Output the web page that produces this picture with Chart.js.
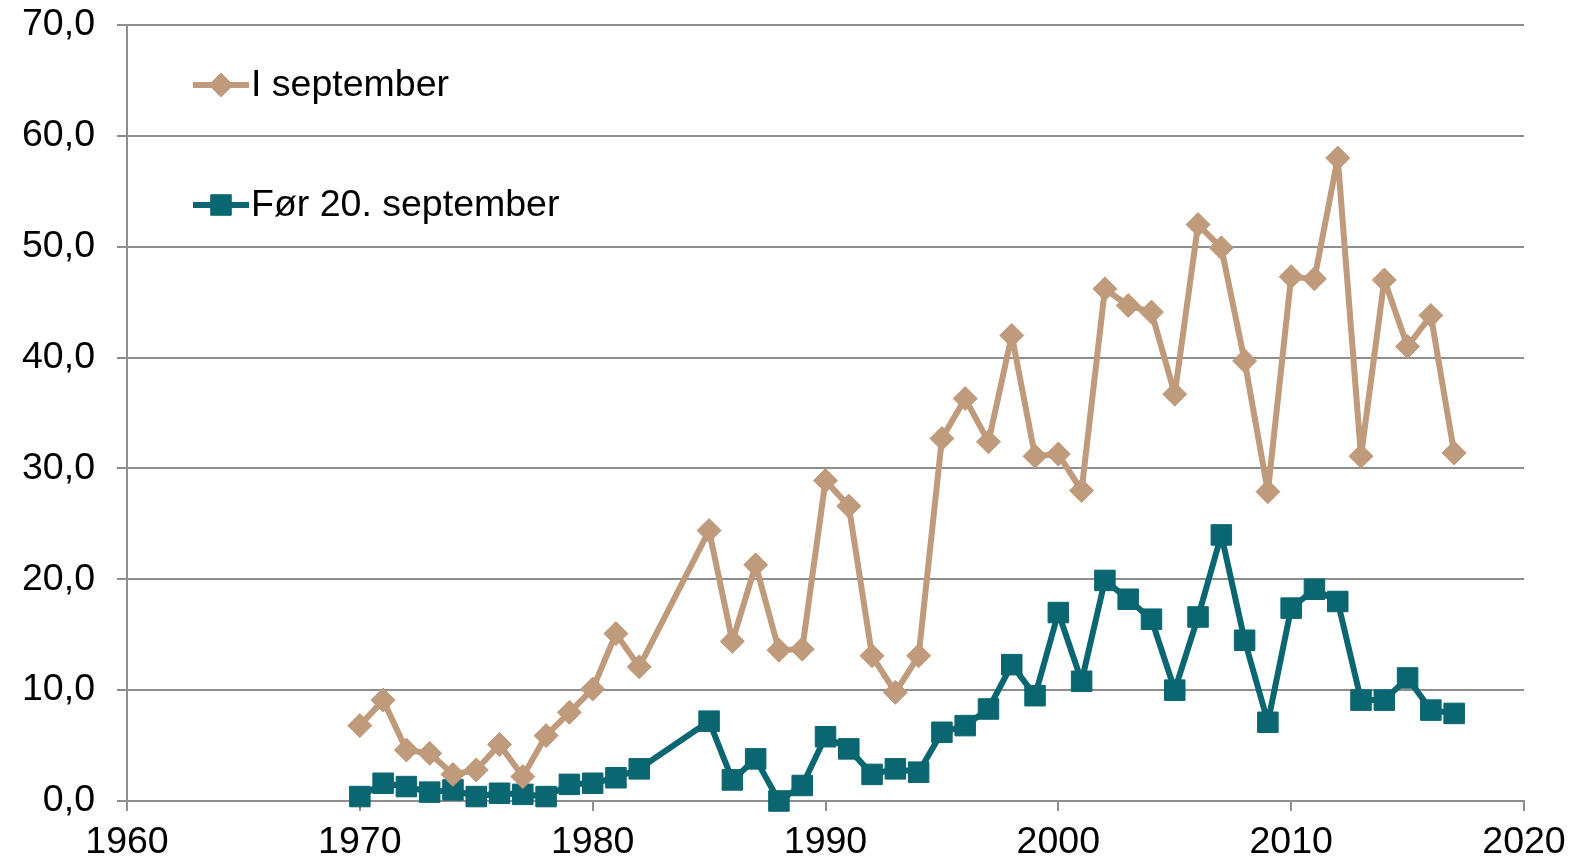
<!DOCTYPE html>
<html>
<head>
<meta charset="utf-8">
<script src="https://cdn.jsdelivr.net/npm/chart.js@4/dist/chart.umd.min.js"></script>
<style>
  body { margin: 0; background: #fff; }
  #chart { display: block; }
</style>
</head>
<body>
<canvas id="chart" width="1591" height="861"></canvas>
<script>
// Years (x values); 1983 and 1984 are missing in the source
const years = [1970, 1971, 1972, 1973, 1974, 1975, 1976, 1977, 1978, 1979,
    1980, 1981, 1982, 1985, 1986, 1987, 1988, 1989, 1990, 1991,
    1992, 1993, 1994, 1995, 1996, 1997, 1998, 1999, 2000, 2001,
    2002, 2003, 2004, 2005, 2006, 2007, 2008, 2009, 2010, 2011,
    2012, 2013, 2014, 2015, 2016, 2017];

const iSeptember = [6.8, 9.1, 4.6, 4.3, 2.4, 2.8, 5.1, 2.2, 5.9, 8.0,
    10.1, 15.1, 12.1, 24.4, 14.4, 21.3, 13.6, 13.7, 28.9, 26.6,
    13.1, 9.8, 13.1, 32.7, 36.3, 32.4, 42.0, 31.1, 31.3, 28.0,
    46.2, 44.7, 44.1, 36.7, 52.0, 49.9, 39.7, 27.9, 47.3, 47.1,
    58.0, 31.1, 47.0, 41.0, 43.8, 31.4];

const for20September = [0.4, 1.6, 1.3, 0.8, 1.0, 0.4, 0.7, 0.6, 0.4, 1.5,
    1.6, 2.1, 2.9, 7.2, 1.9, 3.8, 0.0, 1.4, 5.8, 4.7,
    2.4, 2.9, 2.6, 6.2, 6.8, 8.3, 12.3, 9.5, 17.0, 10.8,
    19.9, 18.2, 16.4, 10.0, 16.6, 24.0, 14.5, 7.1, 17.4, 19.1,
    18.0, 9.1, 9.1, 11.1, 8.2, 7.9];

const seriesLabels = ['I september', 'Før 20. september'];

const tanColor = '#bf9a7b';
const tealColor = '#0a6670';
const gridColor = '#8e8e8e';
const fontFamily = '"Liberation Sans", Arial, sans-serif';
const fontSize = 37.5;

const toPoints = (values) => values.map((v, i) => ({ x: years[i], y: v }));

// Legend drawn inside the plot, stacked with wide spacing
const insideLegend = {
    id: 'insideLegend',
    afterDraw(chart) {
        const ctx = chart.ctx;
        const rows = [85, 205];
        chart.data.datasets.forEach((ds, i) => {
            const y = rows[i];
            ctx.save();
            ctx.strokeStyle = ds.borderColor;
            ctx.lineWidth = ds.borderWidth;
            ctx.beginPath();
            ctx.moveTo(193, y);
            ctx.lineTo(249, y);
            ctx.stroke();
            ctx.fillStyle = ds.pointBackgroundColor;
            ctx.strokeStyle = ds.pointBorderColor;
            ctx.lineWidth = 1;
            Chart.helpers.drawPoint(ctx, {
                pointStyle: ds.pointStyle,
                radius: ds.pointRadius,
                rotation: 0,
                borderWidth: 1
            }, 221, y);
            ctx.fillStyle = '#000';
            ctx.font = fontSize + 'px ' + fontFamily;
            ctx.textBaseline = 'middle';
            ctx.textAlign = 'left';
            ctx.fillText(ds.label, 251, y + 1);
            ctx.restore();
        });
    }
};

// drop the automatic label overflow padding so the plot edges are fixed
const noEdgePadding = (scale) => {
    scale.paddingTop = 0;
    scale.paddingBottom = 0;
    scale.paddingLeft = 0;
    scale.paddingRight = 0;
};

new Chart(document.getElementById('chart'), {
    type: 'line',
    data: {
        datasets: [
            {
                label: seriesLabels[0],
                data: toPoints(iSeptember),
                borderColor: tanColor,
                borderWidth: 6,
                borderJoinStyle: 'round',
                pointStyle: 'rectRot',
                pointRadius: 12,
                pointBackgroundColor: tanColor,
                pointBorderColor: tanColor,
                pointBorderWidth: 1,
                tension: 0,
                clip: false
            },
            {
                label: seriesLabels[1],
                data: toPoints(for20September),
                borderColor: tealColor,
                borderWidth: 6,
                borderJoinStyle: 'round',
                pointStyle: 'rect',
                pointRadius: 14.5,
                pointBackgroundColor: tealColor,
                pointBorderColor: tealColor,
                pointBorderWidth: 1,
                tension: 0,
                clip: false
            }
        ]
    },
    options: {
        responsive: false,
        animation: false,
        layout: {
            autoPadding: false,
            padding: { top: 25, right: 67, left: 0, bottom: 0 }
        },
        plugins: {
            legend: { display: false },
            tooltip: { enabled: false }
        },
        scales: {
            x: {
                type: 'linear',
                min: 1960,
                max: 2020,
                afterFit: (scale) => { scale.height = 60; noEdgePadding(scale); },
                ticks: {
                    stepSize: 10,
                    color: '#000',
                    padding: 9,
                    maxRotation: 0,
                    font: { family: fontFamily, size: fontSize },
                    callback: (v) => String(v)
                },
                grid: {
                    drawOnChartArea: false,
                    drawTicks: true,
                    tickLength: 10,
                    color: gridColor,
                    lineWidth: 2
                },
                border: { display: true, color: gridColor, width: 2 }
            },
            y: {
                min: 0,
                max: 70,
                afterFit: (scale) => { scale.width = 127; noEdgePadding(scale); },
                ticks: {
                    stepSize: 10,
                    color: '#000',
                    padding: 22,
                    font: { family: fontFamily, size: fontSize },
                    callback: (v) => v.toFixed(1).replace('.', ',')
                },
                grid: {
                    color: gridColor,
                    lineWidth: 2,
                    drawTicks: true,
                    tickLength: 10
                },
                border: { display: true, color: gridColor, width: 2 }
            }
        }
    },
    plugins: [insideLegend]
});
</script>
</body>
</html>
